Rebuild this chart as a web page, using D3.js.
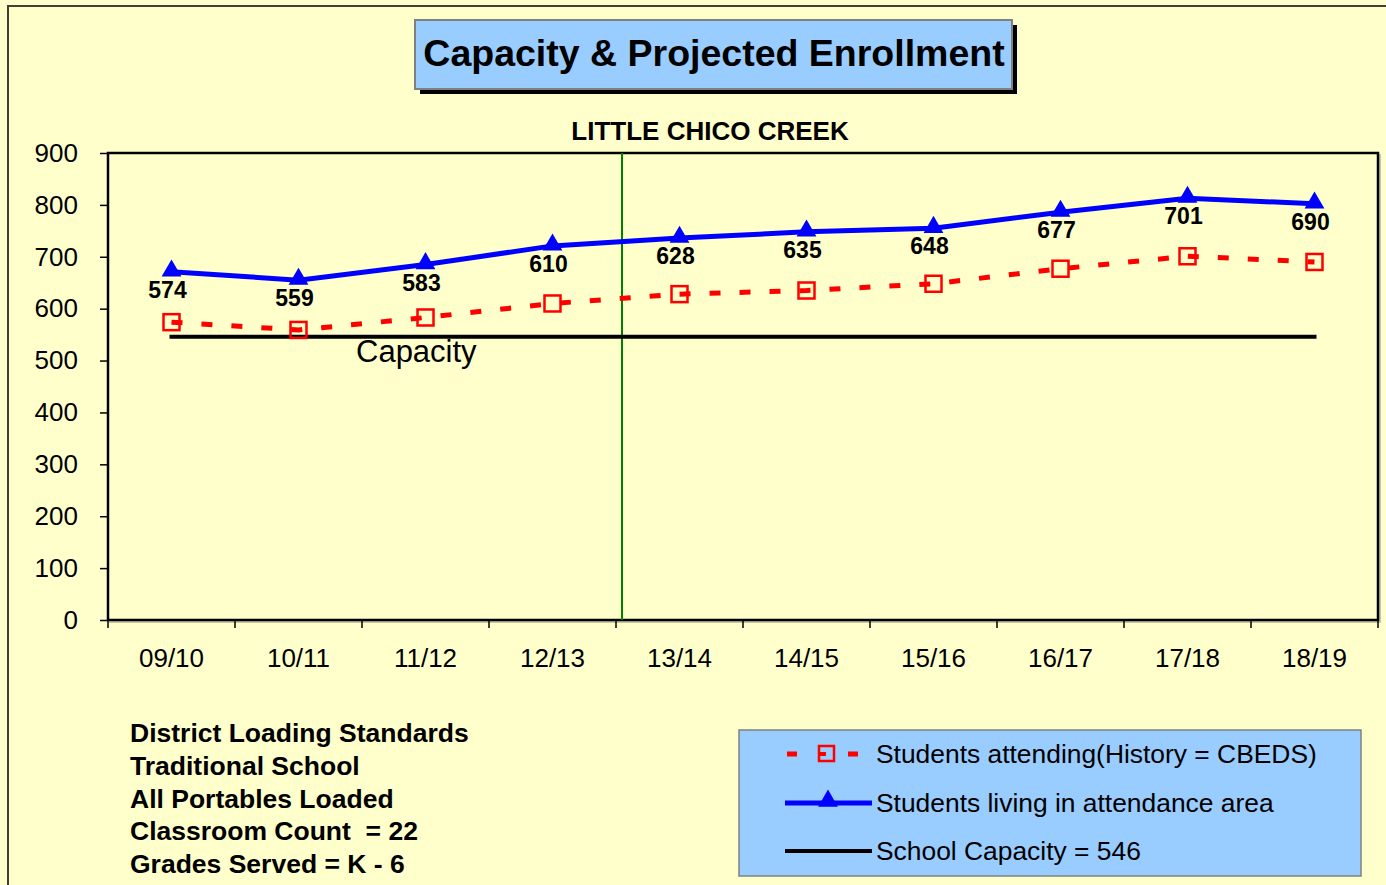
<!DOCTYPE html>
<html>
<head>
<meta charset="utf-8">
<script src="https://cdn.jsdelivr.net/npm/d3@7"></script>
<style>
	body { margin: 0; background: #FFFFCC; }
	svg { display: block; font-family: Arial, "Liberation Sans", sans-serif; }
</style>
</head>
<body>
<div id="vis"></div>
<script>
const width = 1386;
const height = 885;

// chart data
const years = ["09/10", "10/11", "11/12", "12/13", "13/14", "14/15", "15/16", "16/17", "17/18", "18/19"];
const attending = [574, 559, 583, 610, 628, 635, 648, 677, 701, 690];
const living = [671, 655, 685, 721, 736, 748, 755, 786, 813, 802];
const capacity = 546;
const yTicks = [0, 100, 200, 300, 400, 500, 600, 700, 800, 900];
const notes = ["District Loading Standards", "Traditional School", "All Portables Loaded", "Classroom Count  = 22", "Grades Served = K - 6"];
const legendItems = ["Students attending(History = CBEDS)", "Students living in attendance area", "School Capacity = 546"];

const plot = {left: 108, right: 1378, top: 153, bottom: 620};

const svg = d3.select("#vis")
	.append("svg")
		.attr("width", width)
		.attr("height", height);

svg.append("rect")
	.attr("width", width)
	.attr("height", height)
	.attr("fill", "#FFFFCC");

// outer frame
svg.append("rect")
	.attr("x", 8)
	.attr("y", 6)
	.attr("width", 1420)
	.attr("height", 920)
	.attr("fill", "none")
	.attr("stroke", "#404038")
	.attr("stroke-width", 2);

// title box
svg.append("rect")
	.attr("x", 420).attr("y", 25)
	.attr("width", 597).attr("height", 69)
	.attr("fill", "#000");
svg.append("rect")
	.attr("x", 415).attr("y", 20)
	.attr("width", 597).attr("height", 69)
	.attr("fill", "#99CCFF")
	.attr("stroke", "#808080")
	.attr("stroke-width", 2);
svg.append("text")
	.attr("x", 714).attr("y", 66)
	.attr("text-anchor", "middle")
	.attr("font-size", 37.5)
	.attr("font-weight", "bold")
	.text("Capacity & Projected Enrollment");

svg.append("text")
	.attr("x", 710).attr("y", 140)
	.attr("text-anchor", "middle")
	.attr("font-size", 26)
	.attr("font-weight", "bold")
	.text("LITTLE CHICO CREEK");

// scales
const x = d3.scaleBand()
	.domain(years)
	.range([plot.left, plot.right])
	.padding(0);
const cx = d => x(d) + x.bandwidth() / 2;

const y = d3.scaleLinear()
	.domain([0, 900])
	.range([plot.bottom, plot.top]);

// plot frame
svg.append("rect")
	.attr("x", plot.left + 2).attr("y", plot.top + 2)
	.attr("width", plot.right - plot.left).attr("height", plot.bottom - plot.top)
	.attr("fill", "none")
	.attr("stroke", "#c8c8a8")
	.attr("stroke-width", 2);
svg.append("rect")
	.attr("x", plot.left).attr("y", plot.top)
	.attr("width", plot.right - plot.left).attr("height", plot.bottom - plot.top)
	.attr("fill", "#FFFFCC")
	.attr("stroke", "#000")
	.attr("stroke-width", 2.5);

// y axis
const yAxis = svg.append("g")
	.attr("transform", `translate(${plot.left}, 0)`)
	.call(d3.axisLeft(y).tickValues(yTicks).tickSize(8).tickPadding(22));
yAxis.select(".domain").remove();
yAxis.selectAll("line").attr("stroke", "#000").attr("stroke-width", 1.5);
yAxis.selectAll("text")
	.attr("font-size", 26)
	.attr("font-family", "Arial, 'Liberation Sans', sans-serif")
	.attr("fill", "#000");

// x axis: labels centred, ticks between categories
const xAxis = svg.append("g")
	.attr("transform", `translate(0, ${plot.bottom})`)
	.call(d3.axisBottom(x).tickSize(0).tickPadding(29));
xAxis.select(".domain").remove();
xAxis.selectAll("text")
	.attr("font-size", 26)
	.attr("font-family", "Arial, 'Liberation Sans', sans-serif")
	.attr("fill", "#000");

svg.append("g")
	.selectAll("line")
	.data(years.concat(["end"]))
	.enter()
	.append("line")
		.attr("x1", d => d == "end" ? plot.right : x(d))
		.attr("x2", d => d == "end" ? plot.right : x(d))
		.attr("y1", plot.bottom)
		.attr("y2", plot.bottom + 8)
		.attr("stroke", "#000")
		.attr("stroke-width", 1.5);

// green divider between history and projection
svg.append("line")
	.attr("x1", x("13/14") + 6).attr("x2", x("13/14") + 6)
	.attr("y1", plot.top).attr("y2", plot.bottom)
	.attr("stroke", "#008000")
	.attr("stroke-width", 2);

// capacity line
svg.append("line")
	.attr("x1", cx(years[0])).attr("x2", cx(years[years.length - 1]))
	.attr("y1", y(capacity)).attr("y2", y(capacity))
	.attr("stroke", "#000")
	.attr("stroke-width", 4)
	.attr("stroke-linecap", "square");

svg.append("text")
	.attr("x", 356).attr("y", 362)
	.attr("font-size", 31)
	.text("Capacity");

// attending (red dashed, open squares)
const line = d3.line()
	.x((d, i) => cx(years[i]))
	.y(d => y(d));

svg.append("path")
	.datum(attending)
	.attr("d", line)
	.attr("fill", "none")
	.attr("stroke", "#FF0000")
	.attr("stroke-width", 5)
	.attr("stroke-dasharray", "11 19");

svg.append("g")
	.selectAll("rect")
	.data(attending)
	.enter()
	.append("rect")
		.attr("x", (d, i) => cx(years[i]) - 8)
		.attr("y", d => y(d) - 8)
		.attr("width", 16)
		.attr("height", 16)
		.attr("fill", "none")
		.attr("stroke", "#FF0000")
		.attr("stroke-width", 2.5);

// living in area (blue, triangles)
svg.append("path")
	.datum(living)
	.attr("d", line)
	.attr("fill", "none")
	.attr("stroke", "#0000FF")
	.attr("stroke-width", 5);

const tri = d3.symbol().type(d3.symbolTriangle).size(170);
svg.append("g")
	.selectAll("path")
	.data(living)
	.enter()
	.append("path")
		.attr("d", tri)
		.attr("transform", (d, i) => `translate(${cx(years[i])}, ${y(d) - 1})`)
		.attr("fill", "#0000FF");

// value labels
svg.append("g")
	.selectAll("text")
	.data(attending)
	.enter()
	.append("text")
		.attr("x", (d, i) => cx(years[i]) - 4)
		.attr("y", (d, i) => y(living[i]) + 26)
		.attr("text-anchor", "middle")
		.attr("font-size", 23)
		.attr("font-weight", "bold")
		.text(d => d);

// notes block
svg.append("g")
	.selectAll("text")
	.data(notes)
	.enter()
	.append("text")
		.attr("x", 130)
		.attr("y", (d, i) => 742 + i * 32.8)
		.attr("font-size", 26.5)
		.attr("font-weight", "bold")
		.attr("xml:space", "preserve")
		.style("white-space", "pre")
		.text(d => d);

// legend
const legend = svg.append("g");
legend.append("rect")
	.attr("x", 739).attr("y", 730)
	.attr("width", 622).attr("height", 146)
	.attr("fill", "#99CCFF")
	.attr("stroke", "#808080")
	.attr("stroke-width", 1.5);

const legendY = [754, 803, 851];

legend.append("line")
	.attr("x1", 787).attr("x2", 872)
	.attr("y1", legendY[0]).attr("y2", legendY[0])
	.attr("stroke", "#FF0000")
	.attr("stroke-width", 5)
	.attr("stroke-dasharray", "10 51 10 20");
legend.append("rect")
	.attr("x", 819).attr("y", legendY[0] - 8)
	.attr("width", 15).attr("height", 15)
	.attr("fill", "none")
	.attr("stroke", "#FF0000")
	.attr("stroke-width", 2.5);
legend.append("line")
	.attr("x1", 819).attr("x2", 826)
	.attr("y1", legendY[0]).attr("y2", legendY[0])
	.attr("stroke", "#FF0000")
	.attr("stroke-width", 4);

legend.append("line")
	.attr("x1", 785).attr("x2", 872)
	.attr("y1", legendY[1]).attr("y2", legendY[1])
	.attr("stroke", "#0000FF")
	.attr("stroke-width", 5);
legend.append("path")
	.attr("d", tri)
	.attr("transform", `translate(828, ${legendY[1] - 2})`)
	.attr("fill", "#0000FF");

legend.append("line")
	.attr("x1", 785).attr("x2", 872)
	.attr("y1", legendY[2]).attr("y2", legendY[2])
	.attr("stroke", "#000")
	.attr("stroke-width", 4);

legend.selectAll("text")
	.data(legendItems)
	.enter()
	.append("text")
		.attr("x", 876)
		.attr("y", (d, i) => legendY[i] + 9)
		.attr("font-size", 26.4)
		.text(d => d);
</script>
</body>
</html>
